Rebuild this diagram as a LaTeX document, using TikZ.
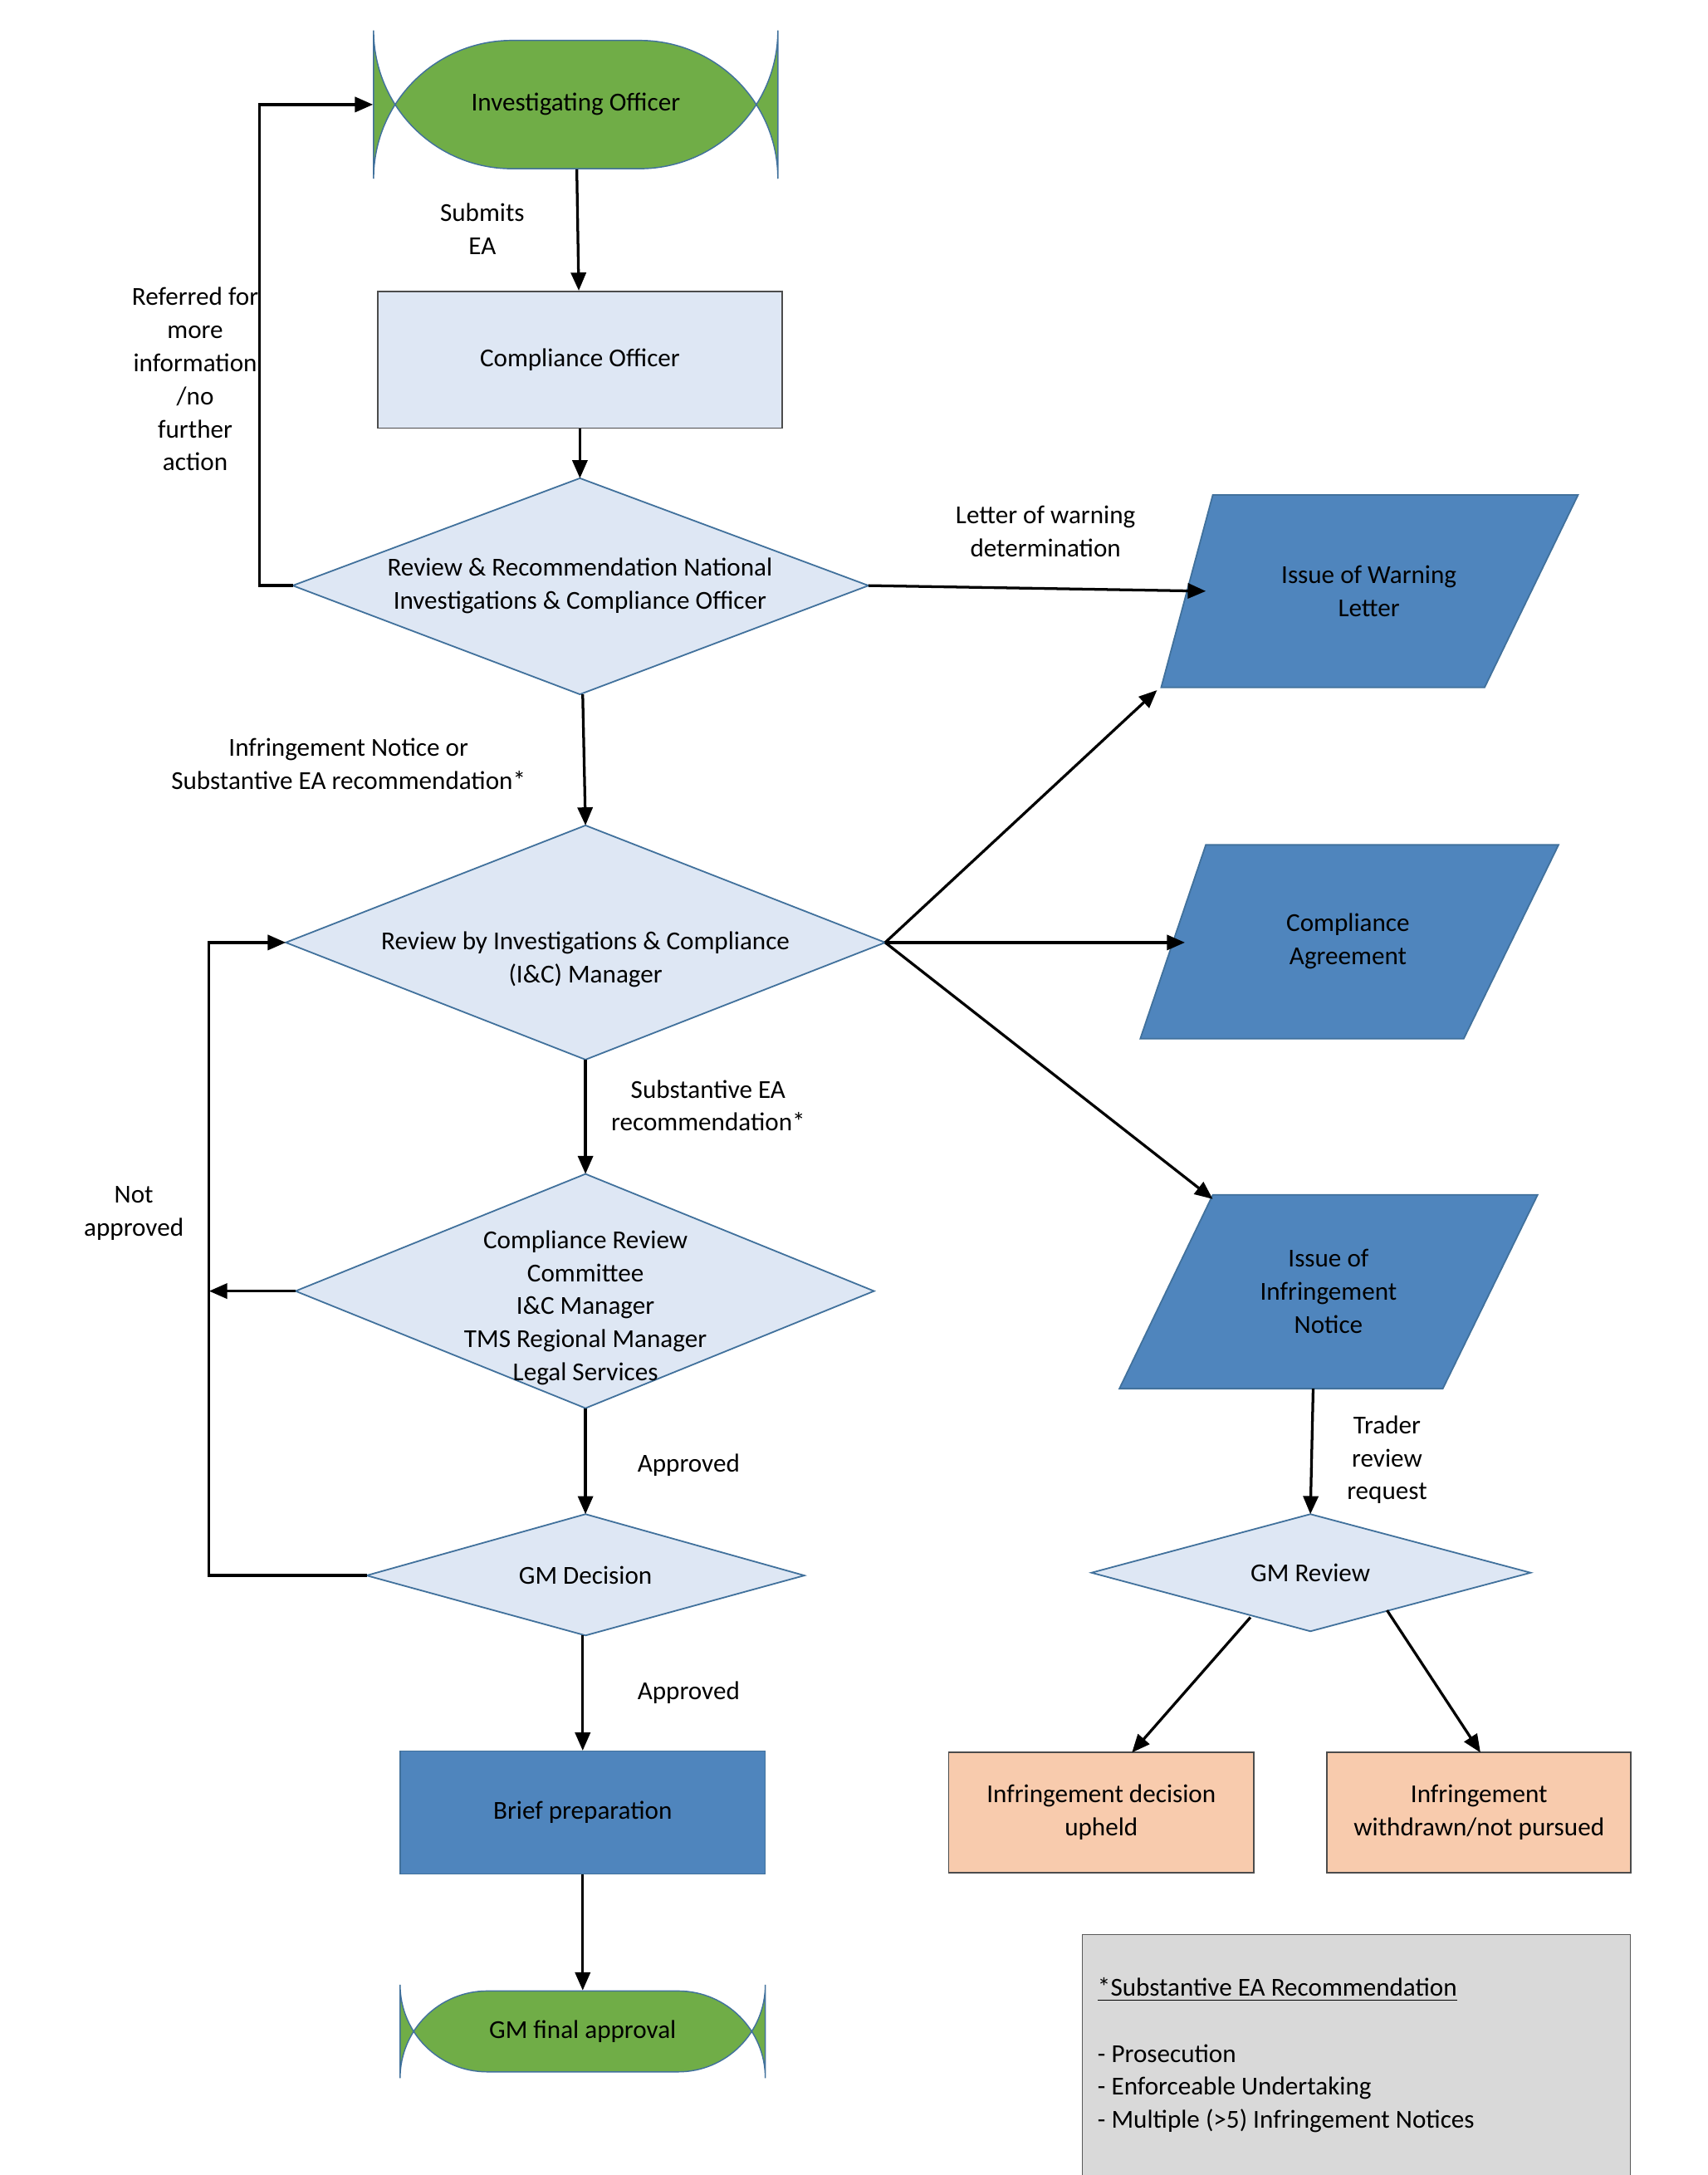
\documentclass[tikz,border=0pt]{standalone}
\usepackage{fontspec}
\setmainfont{Carlito}
\usetikzlibrary{arrows.meta}
\definecolor{gfill}{HTML}{70AD47}
\definecolor{lfill}{HTML}{DEE7F4}
\definecolor{dfill}{HTML}{4F85BD}
\definecolor{ofill}{HTML}{F8CBAD}
\definecolor{edgeb}{HTML}{41719C}
\tikzset{
  box/.style={draw=black!70,line width=0.5pt},
  dia/.style={draw=edgeb,fill=lfill,line width=0.5pt},
  para/.style={draw=edgeb,fill=dfill,line width=0.5pt},
  txt/.style={align=center,inner sep=0pt},
  arr/.style={-{Triangle[length=6pt,width=5pt]},line width=0.9pt},
  lbl/.style={align=center,inner sep=0pt}
}
\begin{document}
\begin{tikzpicture}[x=0.0163cm,y=-0.0163cm,font=\fontsize{8.6}{11}\selectfont]
  \useasboundingbox (0,0) rectangle (1225,1560);

  % start and end
  \node[draw=edgeb,fill=gfill,rounded corners=46,minimum width=290*0.0163cm,minimum height=92*0.0163cm,txt] (io) at (413,75) {Investigating Officer};
  \node[box,fill=lfill,minimum width=290*0.0163cm,minimum height=98*0.0163cm,txt] (co) at (416,258) {Compliance Officer};
  \node[draw=edgeb,fill=dfill,minimum width=262*0.0163cm,minimum height=88*0.0163cm,txt] (brief) at (418,1300) {Brief preparation};
  \node[draw=edgeb,fill=gfill,rounded corners=29,minimum width=262*0.0163cm,minimum height=58*0.0163cm,txt] (final) at (418,1457) {GM final approval};
  \node[box,fill=ofill,minimum width=219*0.0163cm,minimum height=86*0.0163cm,txt] (upheld) at (790,1300) {Infringement decision\\upheld};
  \node[box,fill=ofill,minimum width=218*0.0163cm,minimum height=86*0.0163cm,txt] (withdrawn) at (1061,1300) {Infringement\\withdrawn/not pursued};

  % diamonds
  \path[dia] (210,420) -- (416,343) -- (623,420) -- (416,498) -- cycle;
  \node[txt] (rev) at (416,420) {Review \& Recommendation National\\Investigations \& Compliance Officer};
  \coordinate (rev-n) at (416,343); \coordinate (rev-s) at (418,498);
  \coordinate (rev-w) at (210,420); \coordinate (rev-e) at (623,420);

  \path[dia] (205,676) -- (420,592) -- (635,676) -- (420,760) -- cycle;
  \node[txt] (mgr) at (420,688) {Review by Investigations \& Compliance\\(I\&C) Manager};
  \coordinate (mgr-n) at (420,592); \coordinate (mgr-s) at (420,760);
  \coordinate (mgr-w) at (205,676); \coordinate (mgr-e) at (635,676);

  \path[dia] (212,926) -- (420,842) -- (627,926) -- (420,1010) -- cycle;
  \node[txt] (crc) at (420,938) {Compliance Review\\Committee\\I\&C Manager\\TMS Regional Manager\\Legal Services};
  \coordinate (crc-n) at (420,842); \coordinate (crc-s) at (420,1010);
  \coordinate (crc-w) at (212,926);

  \path[dia] (263,1130) -- (420,1086) -- (577,1130) -- (420,1173) -- cycle;
  \node[txt] (gmd) at (420,1130) {GM Decision};
  \coordinate (gmd-n) at (420,1086); \coordinate (gmd-s) at (418,1173);
  \coordinate (gmd-w) at (263,1130);

  \path[dia] (783,1128) -- (940,1086) -- (1098,1128) -- (940,1170) -- cycle;
  \node[txt] (gmr) at (940,1128) {GM Review};
  \coordinate (gmr-n) at (940,1086);

  % parallelograms
  \path[para] (870,355) -- (1132,355) -- (1065,493) -- (833,493) -- cycle;
  \node[txt] (warn) at (982,424) {Issue of Warning\\Letter};
  \path[para] (865,606) -- (1118,606) -- (1050,745) -- (818,745) -- cycle;
  \node[txt] (agree) at (967,675) {Compliance\\Agreement};
  \path[para] (870,857) -- (1103,857) -- (1035,996) -- (803,996) -- cycle;
  \node[txt] (notice) at (953,926) {Issue of\\Infringement\\Notice};
  \coordinate (notice-s) at (942,996);

  % legend
  \node[draw=black!65,fill=black!15,minimum width=393*0.0163cm,minimum height=173*0.0163cm] (legend) at (973,1474) {};
  \node[anchor=west,align=left,inner sep=0pt] (legtxt) at (787,1474) {\underline{*Substantive EA Recommendation}\\[11pt]- Prosecution\\- Enforceable Undertaking\\- Multiple (>5) Infringement Notices};

  % connectors
  \draw[arr] (io) -- (co);
  \draw[arr] (co) -- (rev-n);
  \draw[arr] (rev-w) -- (186,420) -- (186,75) -- (io);
  \draw[arr] (rev-e) -- (865,424);
  \draw[arr] (rev-s) -- (mgr-n);
  \draw[arr] (mgr-e) -- (830,495);
  \draw[arr] (mgr-e) -- (850,676);
  \draw[arr] (mgr-e) -- (870,860);
  \draw[arr] (mgr-s) -- (crc-n);
  \draw[arr] (crc-w) -- (150,926);
  \draw[arr] (gmd-w) -- (150,1130) -- (150,676) -- (mgr-w);
  \draw[arr] (crc-s) -- (gmd-n);
  \draw[arr] (gmd-s) -- (brief);
  \draw[arr] (brief) -- (final);
  \draw[arr] (notice-s) -- (gmr-n);
  \draw[arr] (897,1160) -- (812,1257);
  \draw[arr] (995,1155) -- (1062,1257);

  % labels
  \node[lbl] at (346,164) {Submits\\EA};
  \node[lbl] at (140,272) {Referred for\\more\\information\\/no\\further\\action};
  \node[lbl] at (750,381) {Letter of warning\\determination};
  \node[lbl] at (250,548) {Infringement Notice or\\Substantive EA recommendation*};
  \node[lbl] at (508,793) {Substantive EA\\recommendation*};
  \node[lbl] at (96,870) {Not\\approved};
  \node[lbl] at (494,1051) {Approved};
  \node[lbl] at (494,1214) {Approved};
  \node[lbl] at (995,1047) {Trader\\review\\request};
\end{tikzpicture}
\end{document}
